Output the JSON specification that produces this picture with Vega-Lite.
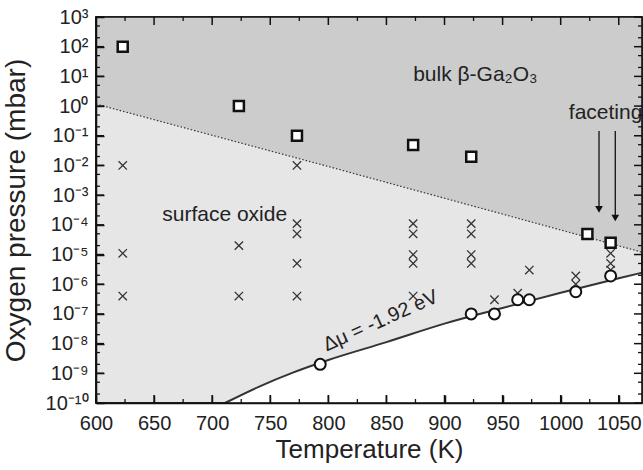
{
  "$schema": "https://vega.github.io/schema/vega-lite/v6.json",
  "width": 546,
  "height": 386,
  "autosize": {"type": "none"},
  "padding": {"left": 96, "top": 17, "right": 1, "bottom": 67},
  "background": "white",
  "config": {
    "view": {"fill": "#e6e6e6", "stroke": "#111", "strokeWidth": 1.5},
    "font": "Liberation Sans",
    "axis": {
      "grid": false,
      "domain": true,
      "ticks": true,
      "domainColor": "#111",
      "domainWidth": 1.5,
      "tickColor": "#111",
      "tickWidth": 1.5,
      "labelFont": "Liberation Sans",
      "labelFontSize": 20,
      "labelColor": "#222",
      "labelFlush": false,
      "titleFont": "Liberation Sans",
      "titleFontWeight": "normal",
      "titleColor": "#222"
    }
  },
  "datasets": {
    "boundary": [
      {"T": 600, "p": 1.17},
      {"T": 800, "p": 0.0092},
      {"T": 1070, "p": 0.000012}
    ],
    "curve": [
      {"T": 711, "p": 1e-10},
      {"T": 740, "p": 3.5e-10},
      {"T": 770, "p": 1.07e-9},
      {"T": 800, "p": 2.8e-9},
      {"T": 850, "p": 1.12e-8},
      {"T": 900, "p": 4.7e-8},
      {"T": 950, "p": 1.58e-7},
      {"T": 1000, "p": 5.2e-7},
      {"T": 1050, "p": 1.58e-6},
      {"T": 1070, "p": 2.45e-6}
    ],
    "crosses": [
      {"T": 623, "p": 0.01}, {"T": 623, "p": 1.1e-5}, {"T": 623, "p": 4e-7},
      {"T": 723, "p": 2e-5}, {"T": 723, "p": 4e-7},
      {"T": 773, "p": 0.01}, {"T": 773, "p": 1.1e-4}, {"T": 773, "p": 5e-5}, {"T": 773, "p": 5e-6}, {"T": 773, "p": 4e-7},
      {"T": 873, "p": 1.1e-4}, {"T": 873, "p": 5e-5}, {"T": 873, "p": 1e-5}, {"T": 873, "p": 5e-6}, {"T": 873, "p": 4e-7},
      {"T": 923, "p": 1.1e-4}, {"T": 923, "p": 5e-5}, {"T": 923, "p": 1e-5}, {"T": 923, "p": 5e-6},
      {"T": 943, "p": 3e-7},
      {"T": 963, "p": 5e-7},
      {"T": 973, "p": 3e-6},
      {"T": 1013, "p": 1.9e-6}, {"T": 1013, "p": 1e-6},
      {"T": 1043, "p": 1.1e-5}, {"T": 1043, "p": 5e-6}, {"T": 1043, "p": 3e-6}
    ],
    "squares": [
      {"T": 623, "p": 100}, {"T": 723, "p": 1}, {"T": 773, "p": 0.1},
      {"T": 873, "p": 0.049}, {"T": 923, "p": 0.0195},
      {"T": 1023, "p": 4.9e-5}, {"T": 1043, "p": 2.5e-5}
    ],
    "circles": [
      {"T": 793, "p": 2e-9}, {"T": 923, "p": 1e-7}, {"T": 943, "p": 1e-7},
      {"T": 963, "p": 3e-7}, {"T": 973, "p": 3e-7}, {"T": 1013, "p": 5.6e-7},
      {"T": 1043, "p": 1.9e-6}
    ],
    "arrows": [
      {"T": 1033, "p1": 0.145, "p2": 0.00033},
      {"T": 1047, "p1": 0.145, "p2": 0.00017}
    ],
    "labels": [
      {"T": 873, "p": 11, "text": "bulk β-Ga₂O₃"},
      {"T": 657, "p": 0.00021, "text": "surface oxide"},
      {"T": 1007, "p": 0.57, "text": "faceting"}
    ],
    "mu": [
      {"T": 845, "p": 5.8e-8, "text": "Δμ = -1.92 eV"}
    ],
    "xticks": [
      {"v": 600, "k": "major"}, {"v": 650, "k": "major"}, {"v": 700, "k": "major"}, {"v": 750, "k": "major"}, {"v": 800, "k": "major"},
      {"v": 850, "k": "major"}, {"v": 900, "k": "major"}, {"v": 950, "k": "major"}, {"v": 1000, "k": "major"}, {"v": 1050, "k": "major"},
      {"v": 625, "k": "minor"}, {"v": 675, "k": "minor"}, {"v": 725, "k": "minor"}, {"v": 775, "k": "minor"}, {"v": 825, "k": "minor"},
      {"v": 875, "k": "minor"}, {"v": 925, "k": "minor"}, {"v": 975, "k": "minor"}, {"v": 1025, "k": "minor"}
    ],
    "yticks": [
      {"v": 1e-10, "k": "major"}, {"v": 1e-9, "k": "major"}, {"v": 1e-8, "k": "major"}, {"v": 1e-7, "k": "major"}, {"v": 1e-6, "k": "major"},
      {"v": 1e-5, "k": "major"}, {"v": 1e-4, "k": "major"}, {"v": 1e-3, "k": "major"}, {"v": 1e-2, "k": "major"}, {"v": 0.1, "k": "major"},
      {"v": 1, "k": "major"}, {"v": 10, "k": "major"}, {"v": 100, "k": "major"}, {"v": 1000, "k": "major"},
      {"v": 2e-10, "k": "minor"}, {"v": 5e-10, "k": "minor"}, {"v": 2e-9, "k": "minor"}, {"v": 5e-9, "k": "minor"},
      {"v": 2e-8, "k": "minor"}, {"v": 5e-8, "k": "minor"}, {"v": 2e-7, "k": "minor"}, {"v": 5e-7, "k": "minor"},
      {"v": 2e-6, "k": "minor"}, {"v": 5e-6, "k": "minor"}, {"v": 2e-5, "k": "minor"}, {"v": 5e-5, "k": "minor"},
      {"v": 2e-4, "k": "minor"}, {"v": 5e-4, "k": "minor"}, {"v": 2e-3, "k": "minor"}, {"v": 5e-3, "k": "minor"},
      {"v": 0.02, "k": "minor"}, {"v": 0.05, "k": "minor"}, {"v": 0.2, "k": "minor"}, {"v": 0.5, "k": "minor"},
      {"v": 2, "k": "minor"}, {"v": 5, "k": "minor"}, {"v": 20, "k": "minor"}, {"v": 50, "k": "minor"},
      {"v": 200, "k": "minor"}, {"v": 500, "k": "minor"}
    ],
    "frame": [{"x1": 600, "x2": 1070, "y1": 1e-10, "y2": 1000}]
  },
  "layer": [
    {
      "data": {"name": "boundary"},
      "mark": {"type": "area", "color": "#cccccc", "orient": "vertical"},
      "encoding": {
        "x": {"field": "T", "type": "quantitative", "scale": {"domain": [600, 1070], "nice": false},
          "axis": {"values": [600, 650, 700, 750, 800, 850, 900, 950, 1000, 1050], "format": "d", "title": "Temperature (K)", "titleFontSize": 26, "tickSize": -8, "labelPadding": 18, "titlePadding": 3, "zindex": 1}},
        "y": {"field": "p", "type": "quantitative", "scale": {"type": "log", "domain": [1e-10, 1000], "nice": false},
          "axis": {"values": [1e-10, 1e-9, 1e-8, 1e-7, 1e-6, 1e-5, 1e-4, 1e-3, 1e-2, 1e-1, 1, 10, 100, 1000], "title": "Oxygen pressure (mbar)", "titleFontSize": 28, "tickSize": -8, "labelPadding": 16, "titlePadding": 15, "zindex": 1,
            "labelExpr": "'10' + replace(replace(replace(replace(replace(replace(replace(replace(replace(replace(replace('' + round(log(datum.value)/LN10), '-', '⁻'), '0', '⁰'), '1', '¹'), '2', '²'), '3', '³'), '4', '⁴'), '5', '⁵'), '6', '⁶'), '7', '⁷'), '8', '⁸'), '9', '⁹')"}},
        "y2": {"datum": 1000}
      }
    },
    {
      "data": {"name": "curve"},
      "mark": {"type": "area", "color": "white", "orient": "vertical", "interpolate": "monotone"},
      "encoding": {
        "x": {"field": "T", "type": "quantitative"},
        "y": {"field": "p", "type": "quantitative"},
        "y2": {"datum": 1e-10}
      }
    },
    {
      "data": {"name": "boundary"},
      "mark": {"type": "line", "color": "#333", "strokeWidth": 1.2, "strokeDash": [1.5, 2]},
      "encoding": {
        "x": {"field": "T", "type": "quantitative"},
        "y": {"field": "p", "type": "quantitative"}
      }
    },
    {
      "data": {"name": "curve"},
      "mark": {"type": "line", "color": "#333", "strokeWidth": 2, "interpolate": "monotone"},
      "encoding": {
        "x": {"field": "T", "type": "quantitative"},
        "y": {"field": "p", "type": "quantitative"}
      }
    },
    {
      "data": {"name": "crosses"},
      "mark": {"type": "point", "shape": "M-1,-1L1,1M1,-1L-1,1", "size": 70, "filled": false, "color": "#333", "strokeWidth": 1.3, "opacity": 1},
      "encoding": {
        "x": {"field": "T", "type": "quantitative"},
        "y": {"field": "p", "type": "quantitative"}
      }
    },
    {
      "data": {"name": "squares"},
      "mark": {"type": "point", "shape": "square", "size": 100, "filled": true, "fill": "white", "stroke": "#111", "strokeWidth": 2.5, "opacity": 1},
      "encoding": {
        "x": {"field": "T", "type": "quantitative"},
        "y": {"field": "p", "type": "quantitative"}
      }
    },
    {
      "data": {"name": "circles"},
      "mark": {"type": "point", "shape": "circle", "size": 121, "filled": true, "fill": "white", "stroke": "#111", "strokeWidth": 2, "opacity": 1},
      "encoding": {
        "x": {"field": "T", "type": "quantitative"},
        "y": {"field": "p", "type": "quantitative"}
      }
    },
    {
      "data": {"name": "arrows"},
      "mark": {"type": "rule", "color": "#111", "strokeWidth": 1.3},
      "encoding": {
        "x": {"field": "T", "type": "quantitative"},
        "y": {"field": "p1", "type": "quantitative"},
        "y2": {"field": "p2"}
      }
    },
    {
      "data": {"name": "arrows"},
      "mark": {"type": "point", "shape": "triangle-down", "size": 60, "filled": true, "color": "#111", "opacity": 1},
      "encoding": {
        "x": {"field": "T", "type": "quantitative"},
        "y": {"field": "p2", "type": "quantitative"}
      }
    },
    {
      "data": {"name": "labels"},
      "mark": {"type": "text", "align": "left", "baseline": "middle", "fontSize": 21, "color": "#222", "font": "Liberation Sans"},
      "encoding": {
        "x": {"field": "T", "type": "quantitative"},
        "y": {"field": "p", "type": "quantitative"},
        "text": {"field": "text"}
      }
    },
    {
      "data": {"name": "mu"},
      "mark": {"type": "text", "align": "center", "baseline": "middle", "fontSize": 20, "color": "#222", "font": "Liberation Sans", "angle": 336},
      "encoding": {
        "x": {"field": "T", "type": "quantitative"},
        "y": {"field": "p", "type": "quantitative"},
        "text": {"field": "text"}
      }
    },
    {
      "data": {"name": "xticks"},
      "transform": [{"filter": "datum.k == 'major'"}],
      "layer": [
        {"mark": {"type": "rule", "color": "#111", "strokeWidth": 1.5},
         "encoding": {"x": {"field": "v", "type": "quantitative"}, "y": {"datum": 1e-10}, "y2": {"datum": 1.86e-10}}},
        {"mark": {"type": "rule", "color": "#111", "strokeWidth": 1.5},
         "encoding": {"x": {"field": "v", "type": "quantitative"}, "y": {"datum": 1000}, "y2": {"datum": 537}}}
      ]
    },
    {
      "data": {"name": "xticks"},
      "transform": [{"filter": "datum.k == 'minor'"}],
      "layer": [
        {"mark": {"type": "rule", "color": "#111", "strokeWidth": 1.3},
         "encoding": {"x": {"field": "v", "type": "quantitative"}, "y": {"datum": 1e-10}, "y2": {"datum": 1.36e-10}}},
        {"mark": {"type": "rule", "color": "#111", "strokeWidth": 1.3},
         "encoding": {"x": {"field": "v", "type": "quantitative"}, "y": {"datum": 1000}, "y2": {"datum": 734}}}
      ]
    },
    {
      "data": {"name": "yticks"},
      "transform": [{"filter": "datum.k == 'major'"}],
      "layer": [
        {"mark": {"type": "rule", "color": "#111", "strokeWidth": 1.5},
         "encoding": {"y": {"field": "v", "type": "quantitative"}, "x": {"datum": 600}, "x2": {"datum": 606.9}}},
        {"mark": {"type": "rule", "color": "#111", "strokeWidth": 1.5},
         "encoding": {"y": {"field": "v", "type": "quantitative"}, "x": {"datum": 1070}, "x2": {"datum": 1063.1}}}
      ]
    },
    {
      "data": {"name": "yticks"},
      "transform": [{"filter": "datum.k == 'minor'"}],
      "layer": [
        {"mark": {"type": "rule", "color": "#111", "strokeWidth": 1.3},
         "encoding": {"y": {"field": "v", "type": "quantitative"}, "x": {"datum": 600}, "x2": {"datum": 603.4}}},
        {"mark": {"type": "rule", "color": "#111", "strokeWidth": 1.3},
         "encoding": {"y": {"field": "v", "type": "quantitative"}, "x": {"datum": 1070}, "x2": {"datum": 1066.6}}}
      ]
    },
    {
      "data": {"name": "frame"},
      "mark": {"type": "rect", "filled": false, "stroke": "#111", "strokeWidth": 1.6},
      "encoding": {
        "x": {"field": "x1", "type": "quantitative"},
        "x2": {"field": "x2"},
        "y": {"field": "y1", "type": "quantitative"},
        "y2": {"field": "y2"}
      }
    }
  ]
}
